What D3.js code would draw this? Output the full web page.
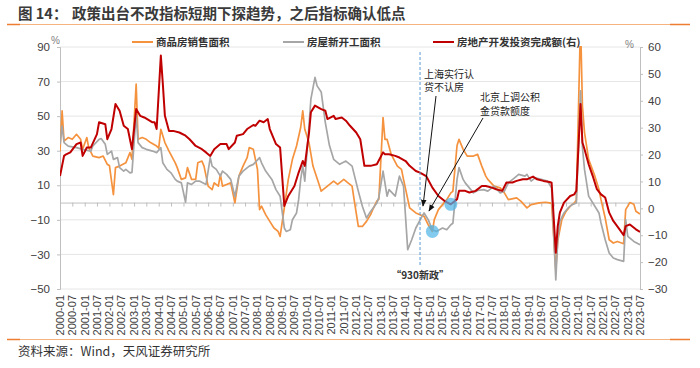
<!DOCTYPE html>
<html>
<head>
<meta charset="utf-8">
<script src="https://cdn.jsdelivr.net/npm/d3@7"></script>
<style>
  body { margin: 0; background: #fff; }
  svg text { font-family: "Liberation Sans", Arial, "Noto Sans CJK SC", sans-serif; }
  svg .cjk { font-family: "Noto Sans CJK SC", "Liberation Sans", sans-serif; }
</style>
</head>
<body>
<svg id="chart" width="700" height="368"></svg>
<script>
// series: [month, value]
var salesArea = [
  ["2000-01",29.6],["2000-02",53],["2000-03",35.6],["2000-05",37.6],["2000-07",36.6],["2000-09",39.5],
  ["2000-11",36.6],["2000-12",30.8],["2001-02",37.6],["2001-03",31.8],["2001-05",26.9],["2001-08",26],
  ["2001-10",26.9],["2001-12",22.1],["2002-01",21.5],["2002-03",4.6],["2002-04",20.2],["2002-06",21.1],
  ["2002-09",23],["2002-11",28.9],["2002-12",25],["2003-02",68.5],["2003-03",36.6],["2003-05",37.6],
  ["2003-07",36.6],["2003-09",34.7],["2003-12",32.7],["2004-01",31.5],["2004-02",42.4],["2004-04",34.7],
  ["2004-06",29.8],["2004-09",23],["2004-10",20.2],["2004-12",13.4],["2005-02",14.3],["2005-03",20.2],
  ["2005-05",13.4],["2005-07",13.4],["2005-08",23],["2005-10",24],["2005-11",21.1],["2006-01",9.5],
  ["2006-03",7.5],["2006-04",11.4],["2006-06",9.5],["2006-07",16.3],["2006-08",9.5],["2006-10",10.5],
  ["2006-12",11.4],["2007-01",5.6],["2007-02",-0.2],["2007-04",15.3],["2007-06",21.1],["2007-08",26],
  ["2007-09",31.8],["2007-11",30.8],["2008-01",19.2],["2008-02",-4.1],["2008-03",-2.1],["2008-05",-7],
  ["2008-07",-10.9],["2008-09",-14.7],["2008-11",-16.7],["2008-12",-19.6],["2009-02",-3],["2009-04",13.4],
  ["2009-06",25],["2009-08",32.7],["2009-10",43.4],["2009-11",53],["2009-12",42.4],["2010-02",34.7],
  ["2010-04",21.1],["2010-07",10.5],["2010-08",6.6],["2010-11",9.5],["2011-02",12.4],["2011-04",10.5],
  ["2011-07",13.4],["2011-09",11.4],["2011-11",9.5],["2011-12",1.7],["2012-02",-13.8],["2012-04",-13.8],
  ["2012-06",-10.9],["2012-08",-7],["2012-09",-4.1],["2012-11",0.8],["2012-12",2],["2013-02",49.2],
  ["2013-03",36.6],["2013-04",36.6],["2013-06",27.9],["2013-09",21.1],["2013-11",19.2],["2013-12",13.4],
  ["2014-03",-3.1],["2014-06",-6],["2014-08",-7],["2014-10",-8],["2014-12",-12.8],["2015-02",-16.7],
  ["2015-03",-9.9],["2015-05",-4.1],["2015-07",-1.2],["2015-09",1.7],["2015-11",5.6],["2015-12",6.5],
  ["2016-02",33],["2016-03",36.6],["2016-05",30.8],["2016-07",26.9],["2016-10",26.9],["2016-12",27.9],
  ["2017-02",21.1],["2017-04",15.3],["2017-05",13.4],["2017-08",9.5],["2017-11",8.5],["2018-01",5.6],
  ["2018-03",1.7],["2018-07",2.7],["2018-09",0.8],["2018-12",-3.1],["2019-02",-1.2],["2019-06",-0.2],
  ["2019-09",0.2],["2019-11",-0.2],["2019-12",-0.5],["2020-02",-39],["2020-03",-22],["2020-05",-9.9],
  ["2020-07",-5.1],["2020-09",-2.1],["2020-11",-0.2],["2020-12",1.5],["2021-02",104.9],["2021-03",55.9],
  ["2021-04",40.5],["2021-06",25],["2021-09",15.3],["2021-11",7.5],["2021-12",1.7],["2022-02",-8.9],
  ["2022-04",-21.5],["2022-06",-23.4],["2022-08",-22.5],["2022-11",-23.8],["2022-12",-4.1],["2023-02",0],
  ["2023-04",-1],["2023-05",-5],["2023-07",-6.6]
];

var newStarts = [
  ["2000-01",33.7],["2000-02",44.3],["2000-03",34.7],["2000-05",32.7],["2000-09",31.8],["2000-12",30.8],
  ["2001-04",29.8],["2001-05",32.7],["2001-08",36.6],["2001-09",37],["2001-11",33.7],["2001-12",27.9],
  ["2002-02",29.8],["2002-03",25],["2002-05",26],["2002-06",20.2],["2002-08",18.2],["2002-09",19.2],
  ["2002-11",17.2],["2002-12",17.5],["2003-02",51.1],["2003-03",34.7],["2003-05",31.8],["2003-07",30.8],
  ["2003-10",29.8],["2003-12",28.9],["2004-02",31.8],["2004-03",23],["2004-05",19.2],["2004-07",17.2],
  ["2004-09",13.4],["2004-10",12.4],["2004-12",11.4],["2005-02",0.2],["2005-03",11.4],["2005-05",10.5],
  ["2005-07",12.4],["2005-09",12.4],["2005-12",10.5],["2006-02",26],["2006-03",21.1],["2006-05",19.2],
  ["2006-07",15.3],["2006-08",18.2],["2006-10",16.3],["2006-12",13.4],["2007-02",3.5],["2007-04",15.3],
  ["2007-06",18.2],["2007-09",21.1],["2007-11",22.1],["2008-02",26],["2008-03",23],["2008-05",18.2],
  ["2008-08",13.4],["2008-10",7.5],["2008-12",3.7],["2009-02",-14.7],["2009-03",-16.7],["2009-05",-15.7],
  ["2009-06",-9.9],["2009-08",-6],["2009-09",1.7],["2009-10",13.4],["2009-11",21.1],["2009-12",12.4],
  ["2010-02",44.3],["2010-03",59.8],["2010-05",72.4],["2010-06",67.5],["2010-08",64],["2010-10",46.3],
  ["2010-12",33],["2011-02",25],["2011-05",22.1],["2011-08",24],["2011-11",21.1],["2012-02",6.6],
  ["2012-04",-2.1],["2012-06",-8.9],["2012-08",-5.1],["2012-11",-0.2],["2012-12",3],["2013-02",18.2],
  ["2013-04",3.7],["2013-05",7.5],["2013-08",3.7],["2013-10",15.3],["2013-12",9.5],["2014-02",-27.3],
  ["2014-04",-21.5],["2014-06",-14.7],["2014-09",-8],["2014-10",-6],["2014-12",-9.9],["2015-02",-15.7],
  ["2015-04",-16.7],["2015-07",-14.7],["2015-09",-15.7],["2015-11",-12.8],["2015-12",-12],["2016-02",13.4],
  ["2016-03",20.2],["2016-05",13.4],["2016-06",11.4],["2016-08",8.5],["2016-10",5.6],["2016-12",7],
  ["2017-03",7.5],["2017-05",6.6],["2017-08",9.5],["2017-11",5.6],["2018-01",6.6],["2018-03",11.4],
  ["2018-06",14.3],["2018-08",16.3],["2018-11",15.3],["2018-12",16.3],["2019-02",12.4],["2019-04",14.3],
  ["2019-07",13.4],["2019-10",12.4],["2019-12",8.5],["2020-02",-44.7],["2020-03",-21.5],["2020-04",-10.9],
  ["2020-06",-6],["2020-08",-3.1],["2020-10",-1.2],["2020-12",-0.2],["2021-02",64.6],["2021-03",32],
  ["2021-04",19.2],["2021-06",3.7],["2021-09",-2.1],["2021-11",-6],["2021-12",-11.8],["2022-02",-21.5],
  ["2022-04",-29.2],["2022-06",-32.1],["2022-08",-33],["2022-11",-34],["2022-12",-9.9],["2023-01",-19.6],
  ["2023-04",-22.5],["2023-07",-24.4]
];

// right axis
var investment = [
  ["2000-01",12],["2000-03",19.5],["2000-04",20.1],["2000-06",20.8],["2000-09",23.9],["2000-11",24.5],
  ["2000-12",19.5],["2001-02",22.6],["2001-04",22.6],["2001-07",27.6],["2001-08",32],["2001-11",31.3],
  ["2001-12",25.7],["2002-02",29.5],["2002-04",38.8],["2002-06",36.3],["2002-08",30.7],["2002-10",29.5],
  ["2002-12",22],["2003-02",36.9],["2003-04",34.4],["2003-06",33.8],["2003-10",32],["2003-11",32],
  ["2003-12",29.5],["2004-02",56.8],["2004-03",46.5],["2004-04",34.4],["2004-06",28.8],["2004-08",28.8],
  ["2004-11",28.2],["2005-02",27],["2005-04",25.7],["2005-07",23.2],["2005-10",22],["2005-12",20.8],
  ["2006-02",19.5],["2006-04",22],["2006-07",23.9],["2006-10",23.9],["2006-11",22],["2007-02",24.5],
  ["2007-03",27],["2007-06",27.6],["2007-08",29.5],["2007-11",31],["2007-12",30.7],["2008-02",32.6],
  ["2008-04",32],["2008-06",33.2],["2008-07",29.5],["2008-10",23.9],["2008-12",22.6],["2009-02",0.9],
  ["2009-04",4.6],["2009-07",8.3],["2009-09",13.3],["2009-11",17.6],["2009-12",15.8],["2010-02",28],
  ["2010-03",35.7],["2010-05",38.2],["2010-08",36.9],["2010-10",36.3],["2010-11",33.2],["2011-02",34.4],
  ["2011-03",33.2],["2011-06",33.8],["2011-08",32.6],["2011-10",30.7],["2012-01",28.2],["2012-03",25.7],
  ["2012-05",15.8],["2012-08",15.8],["2012-11",16.4],["2013-02",20.8],["2013-03",20.1],["2013-05",20.1],
  ["2013-08",19.5],["2013-10",18.9],["2014-01",17.6],["2014-03",15.8],["2014-06",13.9],["2014-08",13.3],
  ["2014-11",12],["2015-02",7.7],["2015-05",4.6],["2015-08",2.7],["2015-11",1.5],["2016-02",3.4],
  ["2016-03",6.5],["2016-06",6.5],["2016-08",5.9],["2016-11",6.5],["2017-02",8.3],["2017-04",8.3],
  ["2017-07",7.7],["2017-09",7.1],["2017-12",6.5],["2018-02",9.6],["2018-05",9.6],["2018-07",10.2],
  ["2018-10",10.8],["2018-12",10.8],["2019-03",11.8],["2019-05",10.8],["2019-08",10.2],["2019-11",9.8],
  ["2019-12",9.5],["2020-02",-16.5],["2020-03",-6.6],["2020-04",-1.6],["2020-06",2.1],["2020-09",4.6],
  ["2020-11",5.2],["2020-12",6.5],["2021-02",38.8],["2021-03",24.5],["2021-04",22],["2021-06",16.4],
  ["2021-08",12],["2021-10",7.1],["2021-12",5.2],["2022-02",4],["2022-04",-1.6],["2022-06",-4.7],
  ["2022-09",-7.8],["2022-11",-10],["2022-12",-6.6],["2023-02",-6],["2023-05",-7.8],["2023-07",-8.8]
];

var seriesNames = ["商品房销售面积", "房屋新开工面积", "房地产开发投资完成额(右)"];
var leftTicks = [-50, -30, -10, 10, 30, 50, 70, 90];
var rightTicks = [-30, -20, -10, 0, 10, 20, 30, 40, 50, 60];
var xLabels = [
  "2000-01","2000-07","2001-01","2001-07","2002-01","2002-07","2003-01","2003-07",
  "2004-01","2004-07","2005-01","2005-07","2006-01","2006-07","2007-01","2007-07",
  "2008-01","2008-07","2009-01","2009-07","2010-01","2010-07","2011-01","2011-07",
  "2012-01","2012-07","2013-01","2013-07","2014-01","2014-07","2015-01","2015-07",
  "2016-01","2016-07","2017-01","2017-07","2018-01","2018-07","2019-01","2019-07",
  "2020-01","2020-07","2021-01","2021-07","2022-01","2022-07","2023-01","2023-07"
];
var policyMonth = "2014-09";

var parseMonth = d3.timeParse("%Y-%m");
var svg = d3.select("#chart");

var plotLeft = 60, plotRight = 640, plotTop = 47, plotBottom = 289;
var colors = ["#F5923E", "#A6A6A6", "#C00000"];

var x = d3.scaleTime()
  .domain([parseMonth(xLabels[0]), parseMonth(xLabels[xLabels.length - 1])])
  .range([plotLeft, plotRight]);
var yL = d3.scaleLinear().domain([-50, 90]).range([plotBottom, plotTop]);
var yR = d3.scaleLinear().domain([-30, 60]).range([plotBottom, plotTop]);

// title + decoration lines
svg.append("text").attr("class", "cjk").attr("x", 18).attr("y", 19)
  .style("font-size", "14.5px").style("font-weight", "bold").attr("fill", "#3a3a3a")
  .text("图 14：");
svg.append("text").attr("class", "cjk").attr("x", 72).attr("y", 19)
  .style("font-size", "14.5px").style("font-weight", "bold").attr("fill", "#3a3a3a")
  .text("政策出台不改指标短期下探趋势，之后指标确认低点");

[24.5, 339.5].forEach(function(yy) {
  svg.append("line").attr("x1", 7).attr("x2", 690).attr("y1", yy).attr("y2", yy)
    .attr("stroke", "#F6B37F").attr("stroke-width", 1);
  svg.append("line").attr("x1", 7).attr("x2", 20).attr("y1", yy).attr("y2", yy)
    .attr("stroke", "#ED7D31").attr("stroke-width", 1.5);
  svg.append("line").attr("x1", 670).attr("x2", 690).attr("y1", yy).attr("y2", yy)
    .attr("stroke", "#ED7D31").attr("stroke-width", 1.5);
});

svg.append("text").attr("class", "cjk").attr("x", 18).attr("y", 356)
  .style("font-size", "12.5px").attr("fill", "#333")
  .text("资料来源：Wind，天风证券研究所");

// grid
svg.append("g").selectAll("line").data(leftTicks).enter().append("line")
  .attr("x1", plotLeft).attr("x2", plotRight)
  .attr("y1", function(d) { return yL(d); }).attr("y2", function(d) { return yL(d); })
  .attr("stroke", "#e6e6e6").attr("stroke-width", 1);

// left axis
var gL = svg.append("g").attr("transform", "translate(" + plotLeft + ",0)")
  .call(d3.axisLeft(yL).tickValues(leftTicks).tickSize(3).tickPadding(7));
// right axis
var gR = svg.append("g").attr("transform", "translate(" + plotRight + ",0)")
  .call(d3.axisRight(yR).tickValues(rightTicks).tickSize(3).tickPadding(5));
// zero line with half-year ticks
var gX = svg.append("g").attr("transform", "translate(0," + yL(0) + ")")
  .call(d3.axisBottom(x).tickValues(xLabels.map(parseMonth)).tickSize(4).tickSizeOuter(0).tickFormat(""));

[gL, gR, gX].forEach(function(g) {
  g.select(".domain").attr("stroke", "#bfbfbf");
  g.selectAll(".tick line").attr("stroke", "#bfbfbf");
  g.selectAll(".tick text").attr("fill", "#404040").style("font-size", "11.5px");
});

// x labels, rotated, under the plot
svg.append("g").selectAll("text").data(xLabels).enter().append("text")
  .attr("transform", function(d) { return "translate(" + x(parseMonth(d)) + ",295) rotate(-90)"; })
  .attr("dy", "0.35em")
  .attr("text-anchor", "end")
  .attr("fill", "#404040")
  .style("font-size", "11px")
  .text(function(d) { return d; });

// % units
svg.append("text").attr("x", 51).attr("y", 44).style("font-size", "10px").attr("fill", "#808080").text("%");
svg.append("text").attr("x", 625).attr("y", 48).style("font-size", "10px").attr("fill", "#808080").text("%");

// legend
var legendX = [132, 283, 433];
seriesNames.forEach(function(name, i) {
  svg.append("line").attr("x1", legendX[i]).attr("x2", legendX[i] + 21)
    .attr("y1", 42).attr("y2", 42).attr("stroke", colors[i]).attr("stroke-width", 2);
  svg.append("text").attr("class", "cjk").attr("x", legendX[i] + 24).attr("y", 46)
    .style("font-size", "10.5px").style("font-weight", "bold").attr("fill", "#333")
    .text(name);
});

// plot clip
svg.append("clipPath").attr("id", "plotclip").append("rect")
  .attr("x", plotLeft).attr("y", plotTop - 1).attr("width", plotRight - plotLeft).attr("height", plotBottom - plotTop + 1);

function lineFor(yScale) {
  return d3.line()
    .x(function(d) { return x(parseMonth(d[0])); })
    .y(function(d) { return yScale(d[1]); });
}

var plot = svg.append("g").attr("clip-path", "url(#plotclip)");
plot.append("path").datum(salesArea).attr("d", lineFor(yL))
  .attr("fill", "none").attr("stroke", colors[0]).attr("stroke-width", 1.7).attr("stroke-linejoin", "round");
plot.append("path").datum(newStarts).attr("d", lineFor(yL))
  .attr("fill", "none").attr("stroke", colors[1]).attr("stroke-width", 1.7).attr("stroke-linejoin", "round");
plot.append("path").datum(investment).attr("d", lineFor(yR))
  .attr("fill", "none").attr("stroke", colors[2]).attr("stroke-width", 2).attr("stroke-linejoin", "round");

// 930 policy marker
var px = x(parseMonth(policyMonth)) - 2;
svg.append("line").attr("x1", px).attr("x2", px).attr("y1", 52).attr("y2", 266)
  .attr("stroke", "#5B9BD5").attr("stroke-width", 1).attr("stroke-dasharray", "3,2");
svg.append("text").attr("class", "cjk").attr("x", px).attr("y", 279).attr("text-anchor", "middle")
  .style("font-size", "10px").style("font-weight", "bold").attr("fill", "#333")
  .text("“930新政”");

// low points
function findPoint(series, month) {
  return series.filter(function(d) { return d[0] === month; })[0];
}
var lowSales = findPoint(salesArea, "2015-02");
var lowInv = findPoint(investment, "2015-11");
svg.append("circle").attr("cx", x(parseMonth(lowSales[0]))).attr("cy", yL(lowSales[1])).attr("r", 6.5)
  .attr("fill", "#4FB3E8").attr("opacity", 0.7);
svg.append("circle").attr("cx", x(parseMonth(lowInv[0]))).attr("cy", yR(lowInv[1])).attr("r", 6.5)
  .attr("fill", "#4FB3E8").attr("opacity", 0.7);

// arrows + notes
svg.append("defs").append("marker").attr("id", "arrow")
  .attr("viewBox", "0 0 10 10").attr("refX", 9).attr("refY", 5)
  .attr("markerWidth", 7).attr("markerHeight", 7).attr("orient", "auto")
  .append("path").attr("d", "M0,1L10,5L0,9Z").attr("fill", "#111");

svg.append("line").attr("x1", 436).attr("y1", 96).attr("x2", 423).attr("y2", 206)
  .attr("stroke", "#111").attr("stroke-width", 1).attr("marker-end", "url(#arrow)");
svg.append("line").attr("x1", 483).attr("y1", 118).attr("x2", 429).attr("y2", 211)
  .attr("stroke", "#111").attr("stroke-width", 1).attr("marker-end", "url(#arrow)");

var notes = [
  ["上海实行认", 424, 77.5], ["贷不认房", 424, 91],
  ["北京上调公积", 480, 101], ["金贷款额度", 480, 115]
];
notes.forEach(function(n) {
  svg.append("text").attr("class", "cjk").attr("x", n[1]).attr("y", n[2])
    .style("font-size", "10px").attr("fill", "#222").text(n[0]);
});
</script>
</body>
</html>
